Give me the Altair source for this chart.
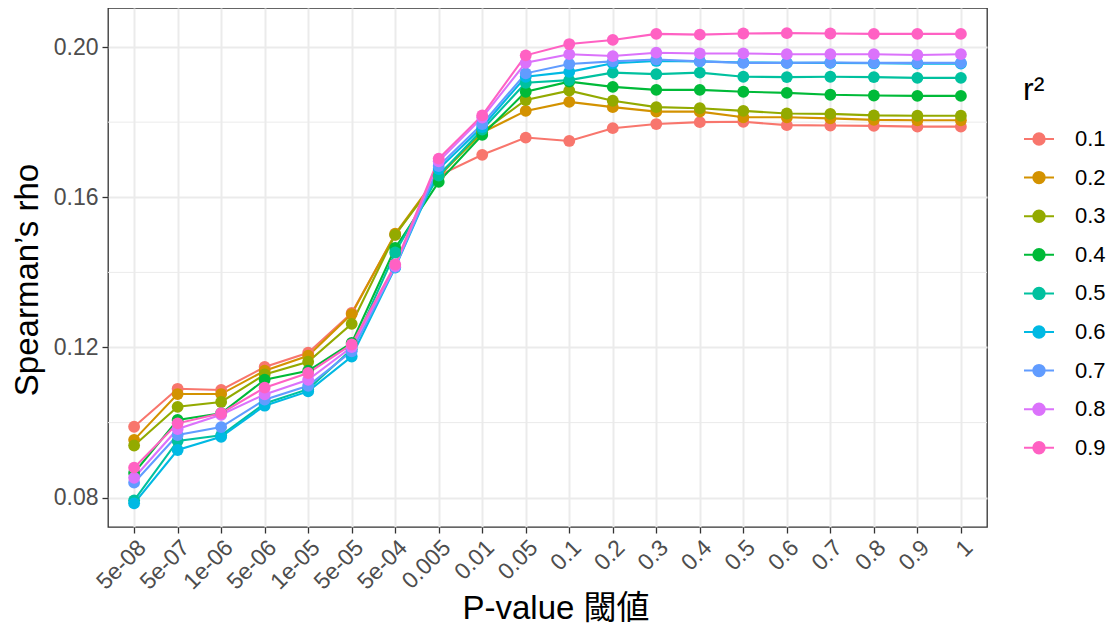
import altair as alt
import pandas as pd

thresholds = ["5e-08", "5e-07", "1e-06", "5e-06", "1e-05", "5e-05", "5e-04",
              "0.005", "0.01", "0.05", "0.1", "0.2", "0.3", "0.4", "0.5",
              "0.6", "0.7", "0.8", "0.9", "1"]
r2_levels = ["0.1", "0.2", "0.3", "0.4", "0.5", "0.6", "0.7", "0.8", "0.9"]

rho_01 = [0.0989, 0.1090, 0.1087, 0.1148, 0.1186, 0.1292, 0.1500, 0.1658, 0.1713, 0.1759,
          0.1750, 0.1784, 0.1795, 0.1800, 0.1801, 0.1792, 0.1791, 0.1790, 0.1788, 0.1788]
rho_02 = [0.0954, 0.1076, 0.1076, 0.1138, 0.1178, 0.1289, 0.1503, 0.1660, 0.1772, 0.1830,
          0.1854, 0.1840, 0.1828, 0.1828, 0.1813, 0.1813, 0.1810, 0.1806, 0.1805, 0.1805]
rho_03 = [0.0939, 0.1042, 0.1055, 0.1128, 0.1162, 0.1263, 0.1500, 0.1655, 0.1774, 0.1859,
          0.1884, 0.1857, 0.1840, 0.1837, 0.1830, 0.1823, 0.1822, 0.1818, 0.1817, 0.1817]
rho_04 = [0.0866, 0.1007, 0.1025, 0.1114, 0.1138, 0.1212, 0.1465, 0.1641, 0.1766, 0.1881,
          0.1908, 0.1894, 0.1886, 0.1886, 0.1881, 0.1878, 0.1873, 0.1871, 0.1870, 0.1870]
rho_05 = [0.0793, 0.0951, 0.0966, 0.1051, 0.1089, 0.1195, 0.1453, 0.1658, 0.1780, 0.1905,
          0.1912, 0.1932, 0.1928, 0.1932, 0.1921, 0.1920, 0.1921, 0.1920, 0.1918, 0.1918]
rho_06 = [0.0785, 0.0927, 0.0962, 0.1045, 0.1083, 0.1176, 0.1413, 0.1675, 0.1787, 0.1921,
          0.1934, 0.1957, 0.1963, 0.1962, 0.1959, 0.1958, 0.1958, 0.1957, 0.1956, 0.1956]
rho_07 = [0.0840, 0.0967, 0.0988, 0.1061, 0.1098, 0.1190, 0.1414, 0.1683, 0.1795, 0.1930,
          0.1955, 0.1962, 0.1967, 0.1962, 0.1958, 0.1958, 0.1959, 0.1958, 0.1958, 0.1958]
rho_08 = [0.0853, 0.0983, 0.1021, 0.1075, 0.1114, 0.1201, 0.1417, 0.1696, 0.1812, 0.1958,
          0.1981, 0.1976, 0.1985, 0.1983, 0.1983, 0.1981, 0.1981, 0.1981, 0.1979, 0.1981]
rho_09 = [0.0880, 0.0998, 0.1025, 0.1093, 0.1132, 0.1208, 0.1421, 0.1703, 0.1818, 0.1978,
          0.2008, 0.2019, 0.2035, 0.2033, 0.2036, 0.2037, 0.2036, 0.2035, 0.2035, 0.2035]

series = [rho_01, rho_02, rho_03, rho_04, rho_05, rho_06, rho_07, rho_08, rho_09]
colors = ["#F8766D", "#D39200", "#93AA00", "#00BA38", "#00C19F",
          "#00B9E3", "#619CFF", "#DB72FB", "#FF61C3"]

y_major = [0.08, 0.12, 0.16, 0.20]
y_minor = [0.10, 0.14, 0.18]

rows = []
for lvl, vals in zip(r2_levels, series):
    for t, v in zip(thresholds, vals):
        rows.append({"threshold": t, "r2": lvl, "rho": v})
df = pd.DataFrame(rows)
minor_df = pd.DataFrame({"rho": y_minor})

FONT = "Liberation Sans, Arial, Noto Sans CJK JP, sans-serif"
W, H = 879, 519

y_scale = alt.Scale(domain=[0.0722, 0.2104], nice=False, zero=False)
x_scale = alt.Scale(type="point", padding=0.6)

x_enc = alt.X("threshold:N", sort=thresholds, scale=x_scale,
              axis=alt.Axis(title="P-value 閾値", labelAngle=-45, labelAlign="right",
                            labelBaseline="top", labelFontSize=23, labelColor="#4D4D4D",
                            labelFont=FONT, labelPadding=3, tickSize=6, tickColor="#333333",
                            tickWidth=1.3, domain=False, grid=True, gridColor="#EBEBEB",
                            gridWidth=2, titleFont=FONT, titleFontSize=33,
                            titleFontWeight="normal", titleColor="#000000",
                            titleBaseline="alphabetic", titleY=91, titleX=W / 2 + 8,
                            labelOverlap=False))
y_axis = alt.Axis(title="Spearman’s rho", values=y_major, format=".2f",
                  labelFontSize=23, labelColor="#4D4D4D", labelFont=FONT,
                  labelPadding=4, tickSize=6, tickColor="#333333", tickWidth=1.3,
                  domain=False, grid=True, gridColor="#EBEBEB", gridWidth=2,
                  titleFont=FONT, titleFontSize=33, titleFontWeight="normal",
                  titleColor="#000000", titleAngle=-90, titleBaseline="alphabetic",
                  titleX=-71, titleY=H / 2 + 12, titleAlign="center")
y_enc = alt.Y("rho:Q", scale=y_scale, axis=y_axis)

legend_path = ("M-1,0L1,0M-0.38,0A0.38,0.38,0,1,1,0.38,0"
               "A0.38,0.38,0,1,1,-0.38,0Z")
color_enc = alt.Color("r2:N", sort=r2_levels,
                      scale=alt.Scale(domain=r2_levels, range=colors),
                      legend=alt.Legend(title="r²", orient="none", legendX=915, legendY=67,
                                        titleFont=FONT, titleFontSize=32,
                                        titleFontWeight="normal", titleColor="#000000",
                                        titlePadding=16, labelFont=FONT, labelFontSize=22,
                                        labelColor="#000000", labelOffset=20,
                                        symbolType=legend_path, symbolSize=900,
                                        symbolStrokeWidth=2, rowPadding=11.6, padding=0,
                                        symbolOpacity=1))

minor = alt.Chart(minor_df).mark_rule(color="#EBEBEB", strokeWidth=1).encode(
    y=y_enc
)

lines = alt.Chart(df).mark_line(strokeWidth=2.1).encode(
    x=x_enc, y=y_enc, color=color_enc, detail="r2:N"
)
points = alt.Chart(df).mark_point(filled=True, size=140, opacity=1).encode(
    x=x_enc, y=y_enc, color=color_enc
)

chart = alt.layer(minor, lines, points).properties(
    width=W, height=H,
    autosize=alt.AutoSizeParams(type="none"),
    padding={"left": 100, "top": 0, "right": 120, "bottom": 98},
).configure(background="white").configure_view(
    stroke="#333333", strokeWidth=1.3, fill="white"
)

chart.save("out.html", embed_options={"renderer": "svg", "actions": False})
